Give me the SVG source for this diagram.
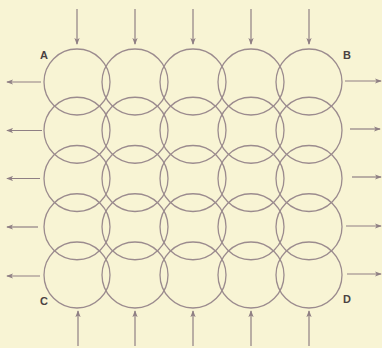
<svg xmlns="http://www.w3.org/2000/svg" width="382" height="348" viewBox="0 0 382 348">
<defs>
<style>
.c{fill:none;stroke:#9b8b8e;stroke-width:1.3}
.a{stroke:#8f7f84;stroke-width:1.2;fill:none;marker-end:url(#ah)}
.l{font-family:"Liberation Sans",Arial,sans-serif;font-weight:bold;font-size:11px;fill:#4a4242}
</style>
<marker id="ah" viewBox="0 0 8 6" refX="7" refY="3" markerWidth="7" markerHeight="5.5" orient="auto" markerUnits="userSpaceOnUse">
<path d="M0,0 L8,3 L0,6 L2,3 z" fill="#8f7f84"/>
</marker>
</defs>
<rect width="382" height="348" fill="#f8f4d4"/>
<g id="circles">
<g id="r0c0"><circle class="c" cx="77" cy="82" r="33"/></g>
<g id="r0c1"><circle class="c" cx="135" cy="82" r="33"/></g>
<g id="r0c2"><circle class="c" cx="193" cy="82" r="33"/></g>
<g id="r0c3"><circle class="c" cx="251" cy="82" r="33"/></g>
<g id="r0c4"><circle class="c" cx="309" cy="82" r="33"/></g>
<g id="r1c0"><circle class="c" cx="77" cy="130.25" r="33"/></g>
<g id="r1c1"><circle class="c" cx="135" cy="130.25" r="33"/></g>
<g id="r1c2"><circle class="c" cx="193" cy="130.25" r="33"/></g>
<g id="r1c3"><circle class="c" cx="251" cy="130.25" r="33"/></g>
<g id="r1c4"><circle class="c" cx="309" cy="130.25" r="33"/></g>
<g id="r2c0"><circle class="c" cx="77" cy="178.5" r="33"/></g>
<g id="r2c1"><circle class="c" cx="135" cy="178.5" r="33"/></g>
<g id="r2c2"><circle class="c" cx="193" cy="178.5" r="33"/></g>
<g id="r2c3"><circle class="c" cx="251" cy="178.5" r="33"/></g>
<g id="r2c4"><circle class="c" cx="309" cy="178.5" r="33"/></g>
<g id="r3c0"><circle class="c" cx="77" cy="226.75" r="33"/></g>
<g id="r3c1"><circle class="c" cx="135" cy="226.75" r="33"/></g>
<g id="r3c2"><circle class="c" cx="193" cy="226.75" r="33"/></g>
<g id="r3c3"><circle class="c" cx="251" cy="226.75" r="33"/></g>
<g id="r3c4"><circle class="c" cx="309" cy="226.75" r="33"/></g>
<g id="r4c0"><circle class="c" cx="77" cy="275" r="33"/></g>
<g id="r4c1"><circle class="c" cx="135" cy="275" r="33"/></g>
<g id="r4c2"><circle class="c" cx="193" cy="275" r="33"/></g>
<g id="r4c3"><circle class="c" cx="251" cy="275" r="33"/></g>
<g id="r4c4"><circle class="c" cx="309" cy="275" r="33"/></g>
</g>
<g id="connectors">
<line class="a" x1="77" y1="9" x2="77" y2="44"/>
<line class="a" x1="135" y1="9" x2="135" y2="44"/>
<line class="a" x1="193" y1="9" x2="193" y2="44"/>
<line class="a" x1="251" y1="9" x2="251" y2="44"/>
<line class="a" x1="309" y1="9" x2="309" y2="44"/>
<line class="a" x1="78" y1="346" x2="78" y2="311"/>
<line class="a" x1="135" y1="346" x2="135" y2="311"/>
<line class="a" x1="193" y1="346" x2="193" y2="311"/>
<line class="a" x1="251" y1="346" x2="251" y2="311"/>
<line class="a" x1="309" y1="346" x2="309" y2="311"/>
<line class="a" x1="41" y1="82" x2="7" y2="82"/>
<line class="a" x1="42" y1="130.5" x2="7" y2="130.5"/>
<line class="a" x1="40" y1="178.5" x2="7" y2="178.5"/>
<line class="a" x1="38" y1="227" x2="7" y2="227"/>
<line class="a" x1="40" y1="276" x2="7" y2="276"/>
<line class="a" x1="345" y1="81" x2="381" y2="81"/>
<line class="a" x1="350" y1="129" x2="380" y2="129"/>
<line class="a" x1="352" y1="177" x2="381" y2="177"/>
<line class="a" x1="346" y1="226" x2="381" y2="226"/>
<line class="a" x1="347" y1="274" x2="381" y2="274"/>
</g>
<g id="labels">
<text class="l" x="40" y="59">A</text>
<text class="l" x="343" y="59">B</text>
<text class="l" x="40" y="305">C</text>
<text class="l" x="343" y="303">D</text>
</g>
</svg>
